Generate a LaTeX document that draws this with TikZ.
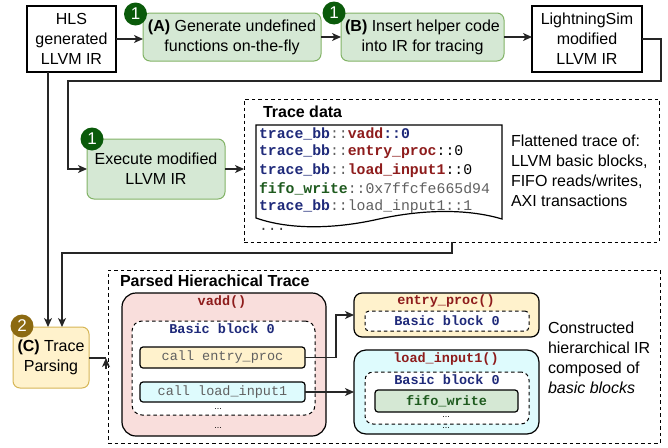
\documentclass[tikz,border=0pt]{standalone}
\usepackage{fontspec}
\setmainfont{Liberation Sans}
\setmonofont{Liberation Mono}
\usetikzlibrary{arrows.meta,calc}
\definecolor{gfill}{HTML}{D5E8D4}
\definecolor{gline}{HTML}{82B366}
\definecolor{yfill}{HTML}{FFF2CC}
\definecolor{yline}{HTML}{D6B656}
\definecolor{pfill}{HTML}{F9DEDC}
\definecolor{cfill}{HTML}{DEFBFD}
\definecolor{badgeg}{HTML}{0A5A0A}
\definecolor{badgeb}{HTML}{8C6A12}
\definecolor{cnavy}{HTML}{1F2A7A}
\definecolor{cred}{HTML}{8E1C1C}
\definecolor{cgreen}{HTML}{1E5A1E}
\definecolor{cgray}{HTML}{606060}
\newcommand{\sz}{\fontsize{16}{20}\selectfont}
\newcommand{\codesz}{\fontsize{14.8}{18}\selectfont}
\newcommand{\msz}{\fontsize{13.5}{16}\selectfont}
\newcommand{\dotsz}{\fontsize{9}{9}\selectfont}
\begin{document}
\begin{tikzpicture}[x=1pt,y=-1pt,
  every node/.style={inner sep=0pt, outer sep=0pt},
  plain/.style={draw=black, line width=1.2pt, fill=white, align=center, font=\sz},
  greenbox/.style={draw=gline, line width=1pt, fill=gfill, rounded corners=7pt, align=center, font=\sz},
  yellowbox/.style={draw=yline, line width=1pt, fill=yfill, rounded corners=7pt, align=center, font=\sz},
  badge/.style={circle, fill=#1, minimum size=23pt, text=white, font=\fontsize{17}{17}\selectfont},
  dbox/.style={draw=black, line width=1pt, dash pattern=on 3.5pt off 3pt},
  fbox/.style={draw=black, line width=1.2pt},
  conn/.style={line width=1.2pt, draw=black!85},
  arr/.style={conn, -{Stealth[length=9pt,width=8pt,inset=2.5pt]}},
  lbl/.style={anchor=west, font=\sz, align=left},
  mono/.style={font=\msz\ttfamily\bfseries},
  dots/.style={font=\dotsz, inner sep=0pt}
]
\useasboundingbox (0,0) rectangle (668,447);

% top row
\node[plain, minimum width=89pt, minimum height=66pt] (hls) at (71.5,39) {HLS\\generated\\LLVM IR};
\node[greenbox, minimum width=178pt, minimum height=48pt] (ga) at (232,37) {\textbf{(A)} Generate undefined\\functions on-the-fly};
\node[greenbox, minimum width=163pt, minimum height=48pt] (gb) at (422.5,37) {\textbf{(B)} Insert helper code\\into IR for tracing};
\node[plain, minimum width=110pt, minimum height=66pt] (ls) at (587,39) {LightningSim\\modified\\LLVM IR};
\node[badge=badgeg] (b1) at (135.5,14) {1};
\node[badge=badgeg] (b2) at (334,13) {1};

% execute
\node[greenbox, minimum width=138pt, minimum height=60pt] (ex) at (156,169) {Execute modified\\LLVM IR};
\node[badge=badgeg] (b3) at (92,139) {1};

% trace data
\node[dbox, minimum width=415pt, minimum height=143pt] (td) at (451.5,170.5) {};
\node[anchor=west, font=\sz\bfseries] (tdt) at (263,112) {Trace data};
\draw[fbox, fill=white] (256,125) -- (502,125) -- (502,219)
  .. controls (465,208) and (420,210) .. (379,219)
  .. controls (335,229) and (290,230) .. (256,218) -- cycle;
\node[anchor=west, font=\codesz\ttfamily] (l1) at (259,134) {\textbf{\textcolor{cnavy}{trace\_bb}}\textcolor{cgray}{::}\textbf{\textcolor{cred}{vadd}}\textbf{\textcolor{cnavy}{::0}}};
\node[anchor=west, font=\codesz\ttfamily] (l2) at (259,152) {\textbf{\textcolor{cnavy}{trace\_bb}}\textcolor{cgray}{::}\textbf{\textcolor{cred}{entry\_proc}}::0};
\node[anchor=west, font=\codesz\ttfamily] (l3) at (259,170.5) {\textbf{\textcolor{cnavy}{trace\_bb}}\textcolor{cgray}{::}\textbf{\textcolor{cred}{load\_input1}}::0};
\node[anchor=west, font=\codesz\ttfamily] (l4) at (259,189) {\textbf{\textcolor{cgreen}{fifo\_write}}\textcolor{cgray}{::0x7ffcfe665d94}};
\node[anchor=west, font=\codesz\ttfamily] (l5) at (259,207) {\textbf{\textcolor{cnavy}{trace\_bb}}\textcolor{cgray}{::load\_input1::1}};
\node[anchor=west, font=\codesz\ttfamily, text=black!75] (l6) at (259,229) {...};
\node[lbl] (flat) at (511,171) {Flattened trace of:\\LLVM basic blocks,\\FIFO reads/writes,\\AXI transactions};

% trace parsing
\node[yellowbox, minimum width=76pt, minimum height=61pt] (tp) at (51,357.5) {\textbf{(C)} Trace\\Parsing};
\node[badge=badgeb] (b4) at (22,326) {2};

% parsed hierarchical trace
\node[dbox, minimum width=552pt, minimum height=173pt] (pht) at (384,356.5) {};
\node[anchor=west, font=\sz\bfseries] (phtt) at (120,281) {Parsed Hierachical Trace};

\node[fbox, fill=pfill, rounded corners=14pt, minimum width=204pt, minimum height=143pt] (vadd) at (224,364.5) {};
\node[font=\msz\ttfamily\bfseries, text=cred] at (222,302) {vadd()};
\node[dbox, fill=white, rounded corners=10pt, minimum width=183pt, minimum height=94pt] (vin) at (223.5,368) {};
\node[mono, text=cnavy] at (222,329) {Basic block 0};
\node[fbox, fill=yfill, rounded corners=3pt, minimum width=165pt, minimum height=21pt, font=\msz\ttfamily, text=cgray] (ce) at (222.5,357.5) {call entry\_proc};
\node[fbox, fill=cfill, rounded corners=3pt, minimum width=165pt, minimum height=20pt, font=\msz\ttfamily, text=cgray] (cl) at (222.5,392) {call load\_input1};
\node[dots] at (218,409) {...};
\node[dots] at (218,428) {...};

\node[fbox, fill=yfill, rounded corners=8pt, minimum width=185pt, minimum height=44pt] (ep) at (446.5,315) {};
\node[font=\msz\ttfamily\bfseries, text=cred] at (446,301) {entry\_proc()};
\node[dbox, fill=white, rounded corners=4pt, minimum width=164pt, minimum height=20pt] (epin) at (447,321) {};
\node[mono, text=cnavy] at (447,321) {Basic block 0};

\node[fbox, fill=cfill, rounded corners=12pt, minimum width=185pt, minimum height=84pt] (li) at (446.5,392) {};
\node[font=\msz\ttfamily\bfseries, text=cred] at (446,359) {load\_input1()};
\node[dbox, fill=white, rounded corners=8pt, minimum width=164pt, minimum height=52pt] (liin) at (447,398) {};
\node[mono, text=cnavy] at (447,380) {Basic block 0};
\node[fbox, fill=gfill, rounded corners=3pt, minimum width=143pt, minimum height=22pt, mono, text=cgreen] (fw) at (446.5,401) {fifo\_write};
\node[dots] at (446,417) {...};
\node[dots] at (446,428.5) {...};

\node[lbl] (cons) at (548,358) {Constructed\\hierarchical IR\\composed of\\\textit{basic blocks}};

% connectors
\draw[arr] (hls.east |- 0,39) -- (ga.west |- 0,39);
\draw[arr] (ga.east) -- (gb.west);
\draw[arr] (gb.east) -- (gb.east -| ls.west);
\coordinate (r1) at (661,39);
\coordinate (r2) at (661,81);
\coordinate (r3) at (68,81);
\draw[arr] (ls.east |- r1) -- (r1) -- (r2) -- (r3) -- (r3 |- ex.west) -- (ex.west);
\draw[arr] (ex.east) -- (ex.east -| td.west);
\coordinate (t1) at (452,253);
\coordinate (t2) at (62,253);
\draw[arr] (td.south -| t1) -- (t1) -- (t2) -- (t2 |- tp.north);
\draw[arr] (hls.south -| 48,0) -- (48,0 |- tp.north);
\coordinate (p1) at (106,358);
\coordinate (p2) at (106,369);
\draw[conn] (tp.east |- p1) -- (p1);
\draw[arr] (p2) -- (p1);
\coordinate (c1) at (336,357.5);
\draw[arr] (ce.east) -- (c1) -- (c1 |- ep.west) -- (ep.west);
\draw[arr] (cl.east) -- (cl.east -| li.west);
\end{tikzpicture}
\end{document}
